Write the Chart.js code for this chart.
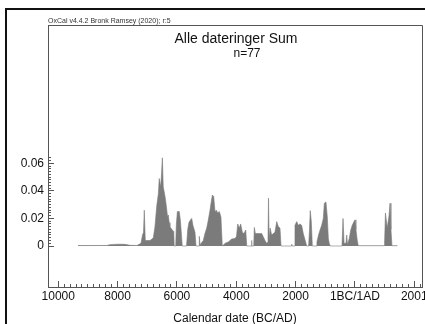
<!DOCTYPE html>
<html>
<head>
<meta charset="utf-8">
<script src="https://cdn.jsdelivr.net/npm/chart.js@4.4.1/dist/chart.umd.min.js"></script>
<style>
    html, body { margin: 0; padding: 0; background: #fff; overflow: hidden; width: 425px; height: 324px; }
    #wrap { position: absolute; left: 0; top: 0; width: 445px; height: 330px; }
    #frame { position: absolute; left: 5px; top: 8px; width: 440px; height: 340px;
             border-left: 2px solid #111; border-top: 2px solid #111; pointer-events: none; }
</style>
</head>
<body>
<div id="wrap"><canvas id="chart" width="445" height="330"></canvas></div>
<div id="frame"></div>
<script>
// Data (calendar years, BC negative / summed probability)
const years = [
    -9335, -8360, -8255, -7985, -7750, -7580, -7345, -7210, -7160, -7125,
    -7100, -7065, -6905, -6840, -6795, -6740, -6680, -6625, -6595, -6545,
    -6520, -6490, -6460, -6400, -6350, -6315, -6290, -6260, -6235, -6155,
    -6105, -6090, -6040, -6020, -5985, -5920, -5880, -5840, -5820, -5675,
    -5635, -5595, -5540, -5500, -5460, -5390, -5355, -5255, -5245, -5220,
    -5110, -5055, -4995, -4940, -4885, -4850, -4805, -4760, -4715, -4670,
    -4625, -4570, -4515, -4470, -4370, -4265, -4155, -4040, -3990, -3950,
    -3895, -3850, -3795, -3740, -3680, -3645, -3500, -3485, -3470, -3410,
    -3390, -3355, -3265, -3140, -3090, -3030, -2975, -2930, -2912, -2890,
    -2860, -2805, -2750, -2695, -2635, -2580, -2525, -2490, -2145, -2130,
    -2110, -2045, -2020, -1960, -1910, -1850, -1795, -1740, -1680, -1625,
    -1560, -1530, -1505, -1470, -1435, -1310, -1280, -1225, -1175, -1120,
    -1065, -1030, -975, -930, -895, -865, -830, -435, -400, -365,
    -300, -275, -250, -190, -140, -90, -30, 5, 35, 80,
    115, 995, 1000, 1030, 1090, 1150, 1185, 1215, 1250, 1420, 1425
];
const prob = [
    0.0003, 0.0004, 0.001, 0.0013, 0.0012, 0.0005, 0.0004, 0.002, 0.008, 0.010,
    0.026, 0.004, 0.004, 0.005, 0.006, 0.014, 0.029, 0.038, 0.049, 0.043,
    0.052, 0.064, 0.043, 0.036, 0.028, 0.021, 0.0225, 0.017, 0.014, 0.0116,
    0.0105, 0, 0, 0.015, 0.025, 0.025, 0.018, 0.006, 0, 0,
    0.012, 0.017, 0.019, 0.020, 0.015, 0.010, 0, 0, 0.007, 0.001,
    0.004, 0.009, 0.013, 0.019, 0.026, 0.031, 0.037, 0.036, 0.025, 0.026,
    0.024, 0.025, 0.021, 0, 0.002, 0.003, 0.005, 0.0055, 0.007, 0.016,
    0.013, 0.016, 0.010, 0.009, 0.0116, 0, 0, 0.004, 0, 0,
    0.0135, 0.009, 0.009, 0.009, 0.0068, 0.004, 0.002, 0.003, 0.0347, 0.004,
    0.013, 0.008, 0.009, 0.010, 0.0177, 0.014, 0.013, 0, 0, 0.0012,
    0, 0, 0.015, 0.0177, 0.015, 0.016, 0.015, 0.009, 0.0044, 0,
    0, 0.012, 0.0257, 0.018, 0, 0, 0.003, 0.008, 0.0116, 0.015,
    0.020, 0.031, 0.032, 0.021, 0.0055, 0.002, 0, 0, 0.020, 0.002,
    0.002, 0.008, 0.001, 0.0055, 0.0116, 0.015, 0.0177, 0.019, 0.012, 0.004,
    0.0002, 0.0002, 0.002, 0.024, 0.013, 0.022, 0.031, 0.012, 0.0002, 0.0002, 0
];

// Axes
const xMajorTicks = [-10000, -8000, -6000, -4000, -2000, 0, 2000];
const xTickLabels = ['10000', '8000', '6000', '4000', '2000', '1BC/1AD', '2001'];
const xMinorTicks = [];
for (let v = -10000; v <= 2200; v += 200) xMinorTicks.push(v);
const yMajorTicks = [0, 0.02, 0.04, 0.06];
const yMinorTicks = [];
for (let i = 0; i <= 32; i++) yMinorTicks.push(+(i * 0.002).toFixed(3));

const X_MIN = -10345, X_MAX = 2262;
const Y_MIN = -0.02975, Y_MAX = 0.1604;
const FONT = "'Liberation Sans', Arial, sans-serif";
const AXIS = '#555';

// Plot box (top/right) + header texts
const decor = {
    id: 'decor',
    beforeDatasetsDraw(chart) {
        const { ctx, chartArea: a } = chart;
        ctx.save();
        ctx.strokeStyle = AXIS;
        ctx.lineWidth = 1;
        ctx.beginPath();
        ctx.moveTo(a.left, a.top + 0.5);
        ctx.lineTo(a.right + 0.5, a.top + 0.5);
        ctx.lineTo(a.right + 0.5, a.bottom);
        ctx.stroke();
        ctx.restore();
    },
    afterDraw(chart) {
        const { ctx } = chart;
        ctx.save();
        ctx.fillStyle = '#333';
        ctx.textBaseline = 'alphabetic';
        ctx.textAlign = 'left';
        ctx.font = `7px ${FONT}`;
        ctx.fillText('OxCal v4.4.2 Bronk Ramsey (2020); r:5', 48, 23);
        ctx.fillStyle = '#111';
        ctx.textAlign = 'center';
        ctx.font = `14px ${FONT}`;
        ctx.fillText('Alle dateringer Sum', 236, 43);
        ctx.font = `12px ${FONT}`;
        ctx.fillText('n=77', 247, 57);
        ctx.restore();
    }
};

new Chart(document.getElementById('chart'), {
    type: 'line',
    data: {
        datasets: [{
            data: years.map((y, i) => ({ x: y, y: prob[i] })),
            borderColor: '#7b7b7b',
            borderWidth: 0.6,
            backgroundColor: '#7b7b7b',
            fill: 'origin',
            pointRadius: 0,
            tension: 0
        }]
    },
    options: {
        responsive: false,
        animation: false,
        layout: { padding: { left: 0, right: 23, top: 25, bottom: 0 } },
        plugins: { legend: { display: false }, tooltip: { enabled: false } },
        scales: {
            x: {
                type: 'linear', position: 'bottom', weight: 1,
                min: X_MIN, max: X_MAX, bounds: 'data',
                afterBuildTicks: s => { s.ticks = xMajorTicks.map(v => ({ value: v })); },
                afterFit: s => { s.height = 43; },
                ticks: {
                    autoSkip: false, maxRotation: 0, padding: 8,
                    color: '#111', font: { family: FONT, size: 12 },
                    callback: (v, i) => xTickLabels[i]
                },
                grid: { drawOnChartArea: false, drawTicks: true, tickLength: -6, color: AXIS },
                border: { display: true, color: AXIS, width: 1 },
                title: {
                    display: true, text: 'Calendar date (BC/AD)', color: '#111',
                    font: { family: FONT, size: 12, lineHeight: 1 },
                    padding: { top: 0, bottom: 5 }
                }
            },
            xm: {
                type: 'linear', position: 'bottom', weight: 0,
                min: X_MIN, max: X_MAX, bounds: 'data',
                afterBuildTicks: s => { s.ticks = xMinorTicks.map(v => ({ value: v })); },
                afterFit: s => { s.height = 0; },
                ticks: { display: false },
                grid: { drawOnChartArea: false, drawTicks: true, tickLength: -3, color: AXIS },
                border: { display: false }
            },
            y: {
                type: 'linear', position: 'left', weight: 1,
                min: Y_MIN, max: Y_MAX, bounds: 'data',
                afterBuildTicks: s => { s.ticks = yMajorTicks.map(v => ({ value: v })); },
                afterFit: s => { s.width = 48; },
                ticks: {
                    padding: 10, color: '#111', font: { family: FONT, size: 12 },
                    callback: v => v === 0 ? '0' : v.toFixed(2)
                },
                grid: { drawOnChartArea: false, drawTicks: true, tickLength: -6, color: AXIS },
                border: { display: true, color: AXIS, width: 1 }
            },
            ym: {
                type: 'linear', position: 'left', weight: 0,
                min: Y_MIN, max: Y_MAX, bounds: 'data',
                afterBuildTicks: s => { s.ticks = yMinorTicks.map(v => ({ value: v })); },
                afterFit: s => { s.width = 0; },
                ticks: { display: false },
                grid: { drawOnChartArea: false, drawTicks: true, tickLength: -3, color: AXIS },
                border: { display: false }
            }
        }
    },
    plugins: [decor]
});
</script>
</body>
</html>
